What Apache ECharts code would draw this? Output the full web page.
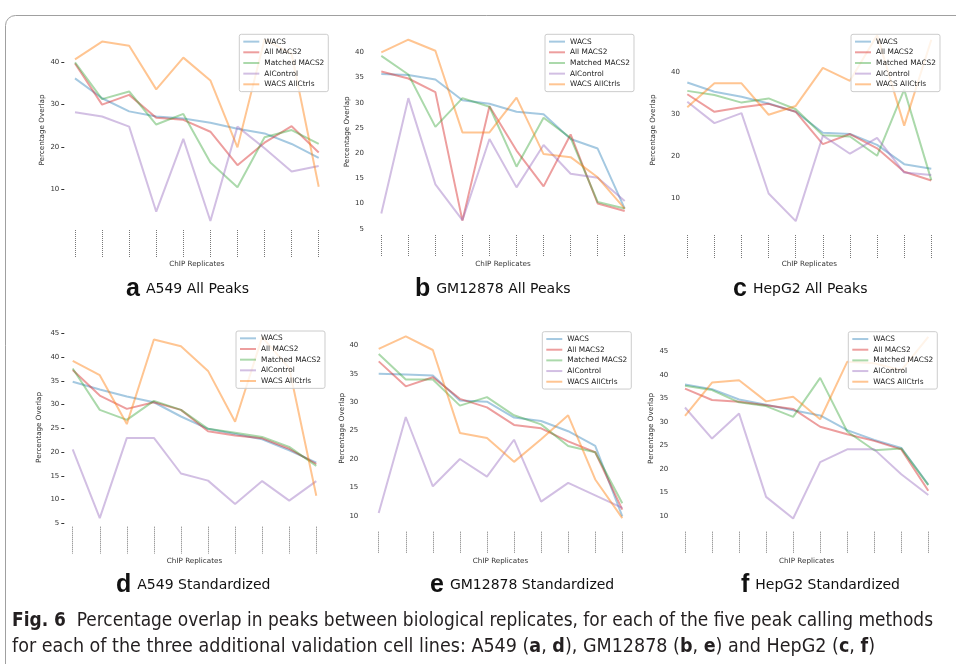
<!DOCTYPE html>
<html><head><meta charset="utf-8">
<script src="https://cdn.jsdelivr.net/npm/echarts@6/dist/echarts.min.js"></script>
<style>html,body{margin:0;padding:0;background:#fff}#c{width:956px;height:664px}</style>
</head><body><div id="c"></div>
<script>
// ---------------- data ----------------
const replicates = ['1','2','3','4','5','6','7','8','9','10'];
const methods = ['WACS','All MACS2','Matched MACS2','AlControl','WACS AllCtrls'];
const yTicksA = [10,20,30,40];
const yTicksB = [5,10,15,20,25,30,35,40];
const yTicksC = [10,20,30,40];
const yTicksD = [5,10,15,20,25,30,35,40,45];
const yTicksE = [10,15,20,25,30,35,40];
const yTicksF = [10,15,20,25,30,35,40,45];

// a: A549 All Peaks
const a_WACS      = [36.2,31.5,28.4,27.2,26.7,25.7,24.3,23.2,20.7,17.4];
const a_AllMACS2  = [39.7,30.0,32.3,26.9,26.4,23.6,15.7,21.0,24.9,18.7];
const a_Matched   = [40.0,31.3,33.1,25.3,27.8,16.3,10.5,22.3,24.0,20.7];
const a_AlControl = [28.2,27.2,24.8,4.7,21.9,2.5,24.8,19.7,14.2,15.5];
const a_AllCtrls  = [40.7,44.9,43.9,33.6,41.1,35.7,19.9,45.4,42.0,10.6];
// b: GM12878 All Peaks
const b_WACS      = [35.7,35.5,34.6,30.5,29.8,28.2,27.7,22.8,20.9,9.0];
const b_AllMACS2  = [36.2,34.8,32.1,6.6,29.3,20.5,13.4,23.7,10.0,8.5];
const b_Matched   = [39.3,35.6,25.2,30.9,29.2,17.3,27.0,23.0,10.3,9.0];
const b_AlControl = [8.0,30.9,13.8,6.7,22.8,13.2,21.6,15.9,15.1,10.5];
const b_AllCtrls  = [40.0,42.5,40.3,24.1,24.1,31.0,19.8,19.2,15.2,9.0];
// c: HepG2 All Peaks
const c_WACS      = [37.5,35.3,34.1,32.5,30.5,25.5,25.2,22.6,18.0,16.9];
const c_AllMACS2  = [34.7,30.5,31.6,32.4,30.5,22.8,25.2,21.8,16.2,14.1];
const c_Matched   = [35.5,34.5,32.7,33.7,31.1,24.9,24.6,20.0,35.8,14.2];
const c_AlControl = [32.9,27.8,30.2,11.0,4.4,24.8,20.5,24.3,16.0,15.4];
const c_AllCtrls  = [31.6,37.3,37.3,29.8,31.9,41.0,37.9,48.8,27.2,47.7];
// d: A549 Standardized
const d_WACS      = [34.8,33.2,31.7,30.5,27.5,24.9,23.8,22.7,20.4,17.8];
const d_AllMACS2  = [37.3,31.9,29.1,30.5,28.9,24.4,23.5,22.9,20.7,17.5];
const d_Matched   = [37.6,28.9,26.8,30.8,28.9,24.9,24.1,23.2,21.1,17.1];
const d_AlControl = [20.6,6.1,23.0,23.0,15.5,14.0,9.1,13.9,9.8,13.9];
const d_AllCtrls  = [39.2,36.2,25.9,43.7,42.3,37.1,26.4,44.2,37.7,10.8];
// e: GM12878 Standardized
const e_WACS      = [35.0,34.9,34.7,30.3,30.1,27.3,26.7,24.9,22.3,9.9];
const e_AllMACS2  = [37.2,32.8,34.4,30.6,29.1,26.0,25.4,23.1,21.2,11.1];
const e_Matched   = [38.5,34.0,34.0,29.4,30.9,27.7,26.1,22.3,21.2,12.2];
const e_AlControl = [10.5,27.4,15.2,20.0,16.9,23.4,12.5,15.8,13.6,11.4];
const e_AllCtrls  = [39.4,41.6,39.2,24.6,23.7,19.5,23.5,27.7,16.4,9.6];
// f: HepG2 Standardized
const f_WACS      = [38.0,37.0,34.8,33.7,32.5,31.4,28.3,26.2,24.5,16.7];
const f_AllMACS2  = [37.1,34.7,34.3,33.6,32.8,29.0,27.4,26.0,24.2,15.4];
const f_Matched   = [37.7,36.8,34.2,33.4,31.1,39.4,28.0,24.0,24.4,16.6];
const f_AlControl = [33.1,26.5,31.8,14.1,9.5,21.5,24.2,24.2,18.9,14.5];
const f_AllCtrls  = [31.3,38.4,38.9,34.4,35.4,30.6,42.8,42.5,41.0,48.1];

const panelLetters = ['a','b','c','d','e','f'];
const panelTitles = ['A549 All Peaks','GM12878 All Peaks','HepG2 All Peaks','A549 Standardized','GM12878 Standardized','HepG2 Standardized'];
const captionLine1 = [['Fig. 6',true],['  Percentage overlap in peaks between biological replicates, for each of the five peak calling methods',false]];
const captionLine2 = [['for each of the three additional validation cell lines: A549 (',false],['a',true],[', ',false],['d',true],['), GM12878 (',false],['b',true],[', ',false],['e',true],[') and HepG2 (',false],['c',true],[', ',false],['f',true],[')',false]];

// ---------------- assembly ----------------
const panels = [
  [a_WACS,a_AllMACS2,a_Matched,a_AlControl,a_AllCtrls],
  [b_WACS,b_AllMACS2,b_Matched,b_AlControl,b_AllCtrls],
  [c_WACS,c_AllMACS2,c_Matched,c_AlControl,c_AllCtrls],
  [d_WACS,d_AllMACS2,d_Matched,d_AlControl,d_AllCtrls],
  [e_WACS,e_AllMACS2,e_Matched,e_AlControl,e_AllCtrls],
  [f_WACS,f_AllMACS2,f_Matched,f_AlControl,f_AllCtrls]
];
const panelTicks = [yTicksA,yTicksB,yTicksC,yTicksD,yTicksE,yTicksF];
const colors = ['rgba(31,119,180,0.40)','rgba(214,39,40,0.45)','rgba(44,160,44,0.40)','rgba(148,103,189,0.42)','rgba(255,127,14,0.45)'];

// layout (pixels)
const layouts = [
  {left:75,    width:243.7, bottom:230,   min:0.38, max:47.63, axisX:64.3,  showTick:true,  nameCx:41.7,  tickLen:27,   xNameGap:30.5, legL:239.3, legT:34.3},
  {left:381.3, width:243.4, bottom:235,   min:3.75, max:44.7,  axisX:366,   showTick:false, nameCx:346.7, tickLen:22,   xNameGap:25.8, legL:545,   legT:34.3},
  {left:687.3, width:244,   bottom:235,   min:1.1,  max:51.2,  axisX:682,   showTick:false, nameCx:653.3, tickLen:23,   xNameGap:25.8, legL:851,   legT:34.3},
  {left:72.7,  width:243.6, bottom:526.7, min:4.3,  max:46.1,  axisX:64.3,  showTick:true,  nameCx:39,    tickLen:26.7, xNameGap:30.8, legL:236,   legT:331},
  {left:378.7, width:243.6, bottom:531.7, min:7.2,  max:43.6,  axisX:360.3, showTick:false, nameCx:345,   tickLen:21.7, xNameGap:25.8, legL:542.3, legT:331.7},
  {left:685,   width:243.3, bottom:531.7, min:6.7,  max:50.6,  axisX:670.3, showTick:false, nameCx:651,   tickLen:21.7, xNameGap:25.8, legL:848.3, legT:331.7}
];
const ppu = [4.233,5.04,4.19,4.75,5.678,4.705];

const FONT = 'DejaVu Sans';
const grids=[], xAxes=[], yAxes=[], series=[], legends=[];
panels.forEach((p,i)=>{
  const L = layouts[i];
  const h = (L.max-L.min)*ppu[i];
  grids.push({left:L.left, top:L.bottom-h, width:L.width, height:h, containLabel:false});
  xAxes.push({type:'category', gridIndex:i, data:replicates, boundaryGap:false,
    axisLine:{show:false},
    axisTick:{show:true, length:L.tickLen, lineStyle:{color:'#777', type:[1,1], width:1}},
    axisLabel:{show:false}, splitLine:{show:false},
    name:'ChIP Replicates', nameLocation:'middle', nameGap:L.xNameGap,
    nameTextStyle:{fontSize:7.2, color:'#333', fontFamily:FONT}});
  yAxes.push({type:'value', gridIndex:i, min:L.min, max:L.max, offset:L.left-L.axisX,
    axisLine:{show:false},
    axisTick:{show:L.showTick, length:3, customValues:panelTicks[i], lineStyle:{color:'#333', width:1}},
    axisLabel:{customValues:panelTicks[i], fontSize:7, color:'#333', margin:L.showTick?5:2, fontFamily:FONT},
    splitLine:{show:false},
    name:'Percentage Overlap', nameLocation:'middle', nameGap:L.axisX-L.nameCx-3.5,
    nameTextStyle:{fontSize:7.2, color:'#333', fontFamily:FONT}});
  p.forEach((vals,k)=>series.push({type:'line', name:methods[k], xAxisIndex:i, yAxisIndex:i, data:vals,
    symbol:'none', showSymbol:false, silent:true, lineStyle:{width:2, color:colors[k]}, itemStyle:{color:colors[k]},
    emphasis:{disabled:true}}));
  legends.push({orient:'vertical', left:L.legL, top:L.legT, data:methods, icon:'rect', itemWidth:16, itemHeight:2,
    itemGap:2, padding:[3,4,3,4], selectedMode:false,
    textStyle:{fontSize:7.4, lineHeight:8.67, color:'#222', fontFamily:FONT},
    backgroundColor:'rgba(255,255,255,0.8)', borderColor:'#cccccc', borderWidth:1, borderRadius:2});
});

const titlePos = [[126,289],[415,289],[733,289],[116,585],[430,585],[741,585]];
const graphics = [
  {type:'rect', shape:{x:5.5, y:15.5, width:990, height:700, r:10}, style:{fill:'none', stroke:'#a0a0a0', lineWidth:1}, silent:true}
];
panelLetters.forEach((l,i)=>{
  graphics.push({type:'text', x:titlePos[i][0], y:titlePos[i][1], silent:true,
    style:{text:'{l|'+l+'}{t|'+panelTitles[i]+'}', verticalAlign:'middle', align:'left',
      rich:{l:{fontSize:25, fontWeight:'bold', fontFamily:'Liberation Sans', fill:'#111', color:'#111', padding:[0,6,0,0]},
            t:{fontSize:14, fontFamily:FONT, fill:'#111', color:'#111'}}}});
});

// caption: condensed by horizontal scaling to the reference line widths
const CAPF = '"DejaVu Sans Condensed","DejaVu Sans",sans-serif';
const CAPS = 19;
const mctx = document.createElement('canvas').getContext('2d');
function partsWidth(parts){ let w=0; parts.forEach(([t,b])=>{ mctx.font=(b?'bold ':'')+CAPS+'px '+CAPF; w+=mctx.measureText(t).width; }); return w; }
function partsText(parts){ return parts.map(([t,b])=>'{'+(b?'b':'r')+'|'+t+'}').join(''); }
const capRich = {b:{fontSize:CAPS, fontWeight:'bold', fontFamily:CAPF, fill:'#231f20', color:'#231f20'},
                 r:{fontSize:CAPS, fontFamily:CAPF, fill:'#231f20', color:'#231f20'}};
const s1 = 921/partsWidth(captionLine1), s2 = 863/partsWidth(captionLine2);
graphics.push({type:'text', x:12, y:621, scaleX:s1, silent:true, style:{verticalAlign:'middle', rich:capRich, text:partsText(captionLine1)}});
graphics.push({type:'text', x:12, y:647, scaleX:s2, silent:true, style:{verticalAlign:'middle', rich:capRich, text:partsText(captionLine2)}});

const chart = echarts.init(document.getElementById('c'));
chart.setOption({animation:false, backgroundColor:'#fff', grid:grids, xAxis:xAxes, yAxis:yAxes, series:series, legend:legends, graphic:graphics});
</script></body></html>
